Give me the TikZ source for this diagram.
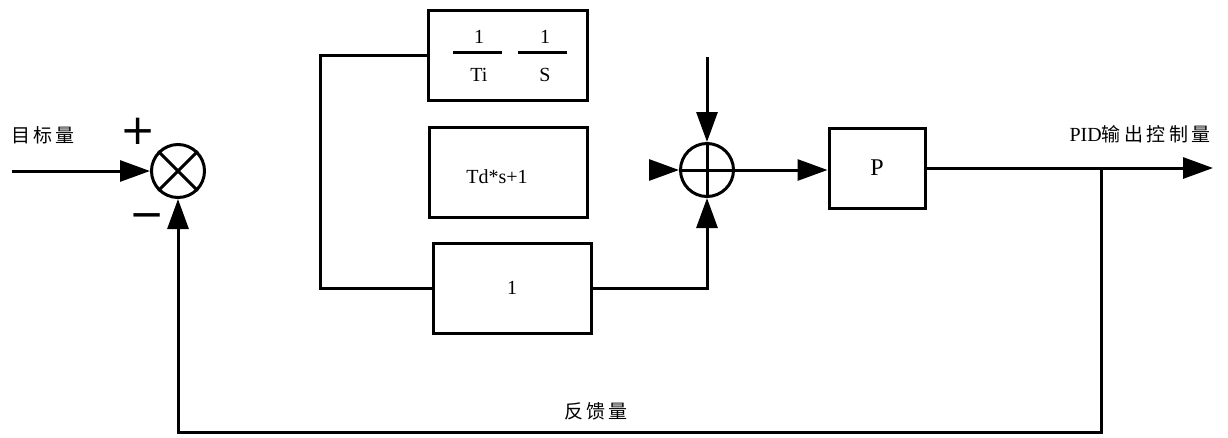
\documentclass[tikz,border=0pt]{standalone}
\usepackage{fontspec}
\setmainfont{Liberation Serif}
\newfontfamily\cjk[LetterSpace=18]{Noto Sans CJK SC}
\newfontfamily\dv{DejaVu Sans}
\usetikzlibrary{arrows.meta}
\begin{document}
\begin{tikzpicture}[x=1pt,y=-1pt,
  line width=3pt,
  arr/.style={-{Triangle[length=30pt,width=21pt]}},
  blockbox/.style={draw,line width=3pt,inner sep=0pt,minimum width=158pt,minimum height=90pt,font=\fontsize{20}{21}\selectfont},
  sumnode/.style={draw,circle,line width=3pt,inner sep=0pt,minimum size=53pt},
  lat/.style={inner sep=0pt,font=\fontsize{20}{21}\selectfont},
  cjklabel/.style={inner sep=0pt,font=\cjk\fontsize{19}{20}\selectfont},
  sign/.style={inner sep=0pt,font=\dv\fontsize{42}{42}\selectfont}]
\useasboundingbox (0,0) rectangle (1228,437);

% nodes
\node[sumnode] (s1) at (178,171) {};
\draw (s1.45) -- (s1.225);
\draw (s1.135) -- (s1.315);

\node[sumnode] (s2) at (707,170) {};
\draw (s2.north) -- (s2.south);
\draw (s2.west) -- (s2.east);

\node[blockbox,minimum width=159pt] (b1) at (507.5,55) {};
\node[blockbox] (b2) at (508,172) {};
\node[lat] (b2t) at (497,177) {Td*s+1};
\node[blockbox] (b3) at (512,288) {1};
\node[blockbox,minimum width=96pt,minimum height=80pt,font=\fontsize{24}{25}\selectfont] (P) at (877,168) {P};

% fraction 1/Ti 1/S
\node[lat] (f1n) at (479,37) {1};
\node[lat] (f1d) at (479,75) {Ti};
\node[lat] (f2n) at (545,37) {1};
\node[lat] (f2d) at (545,75) {S};
\draw (453,52) -- (502,52);
\draw (518,52) -- (567,52);

% labels
\node[cjklabel] (lin) at (43,135) {目标量};
\node[sign] (plus) at (138,131) {+};
\node[sign] (minus) at (147,221) {−};
\node[inner sep=0pt] (lout) at (1140,134) {{\fontsize{20}{21}\selectfont PID}{\cjk\fontsize{19}{20}\selectfont 输出控制量}};
\node[cjklabel] (lfb) at (596,411) {反馈量};

% coordinates
\coordinate (in) at (12,171);
\coordinate (top) at (707,57);
\coordinate (lft) at (649,170);
\coordinate (out) at (1213,168);
\coordinate (fb) at (1101,168);
\coordinate (fbb) at (1101,432);
\coordinate (bl) at (320,288);

% connectors
\draw[arr] (in) -- (s1.west);
\draw[arr] (top) -- (s2.north);
\draw[arr] (lft) -- (s2.west);
\draw[arr] (s2.east) -- (s2.east -| P.west);
\draw[arr] (P.east) -- (out);
\draw[arr] (fb) -- (fbb) -| (s1.south);
\draw (b1.west) -| (bl) -- (b3.west);
\draw[arr] (b3.east) -| (s2.south);
\end{tikzpicture}
\end{document}
